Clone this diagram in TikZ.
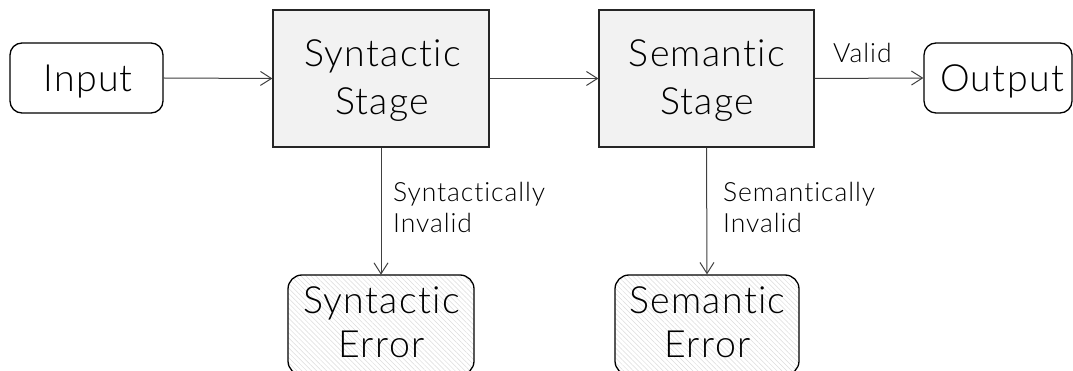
\documentclass[tikz,border=0pt]{standalone}
\usepackage{fontspec}
\setmainfont{Lato}[UprightFont=* Light, LetterSpace=3.5, Ligatures=NoCommon]
\usetikzlibrary{arrows.meta,patterns.meta}
\definecolor{stagefill}{HTML}{F2F2F2}
\definecolor{linegray}{HTML}{404040}
\definecolor{hatchgray}{HTML}{DCDCDC}
\begin{document}
\begin{tikzpicture}[x=1pt,y=-1pt,
  boxtext/.style={font=\fontsize{37.5}{40}\selectfont, anchor=base, inner sep=0pt, text=black},
  labeltext/.style={font=\fontsize{26.5}{30}\selectfont, anchor=base west, inner sep=0pt, text=black},
  roundbox/.style={draw=black, line width=1.3pt, rounded corners=12pt, fill=white, inner sep=0pt},
  stagebox/.style={draw=black!85, line width=1.3pt, fill=stagefill, inner sep=0pt},
  errbox/.style={draw=black, line width=1.3pt, rounded corners=14pt, inner sep=0pt,
     preaction={fill=white}, pattern={Lines[angle=-45,distance=3.5pt,line width=0.5pt]}, pattern color=hatchgray},
  conn/.style={draw=linegray, line width=1pt, -{Straight Barb[length=11pt,width=14pt,line width=1pt]}}
]
\useasboundingbox (0,0) rectangle (1073,371);
\clip (0,0) rectangle (1073,371);
\fill[white] (0,0) rectangle (1073,371);

% boxes
\node[roundbox, minimum width=153pt, minimum height=70pt] (in) at (86.5,78) {};
\node[stagebox, minimum width=216pt, minimum height=137pt] (syn) at (381,78.5) {};
\node[stagebox, minimum width=215pt, minimum height=137pt] (sem) at (706.5,78.5) {};
\node[roundbox, minimum width=148pt, minimum height=70pt] (out) at (998,78) {};
\node[errbox, minimum width=186pt, minimum height=100pt] (synerr) at (381,325) {};
\node[errbox, minimum width=184pt, minimum height=100pt] (semerr) at (707,325) {};

% texts
\node[boxtext] (tin) at (88,92) {Input};
\node[boxtext] (tsyn1) at (382.5,67) {Syntactic};
\node[boxtext] (tsyn2) at (382,115) {Stage};
\node[boxtext] (tsem1) at (707,67) {Semantic};
\node[boxtext] (tsem2) at (707,115) {Stage};
\node[boxtext] (tout) at (1002,92) {Output};
\node[boxtext] (tse1) at (381.5,313) {Syntactic};
\node[boxtext] (tse2) at (381.5,357) {Error};
\node[boxtext] (tme1) at (707.5,313) {Semantic};
\node[boxtext] (tme2) at (707.5,357) {Error};

% labels
\node[labeltext] (lvalid) at (833,63) {Valid};
\node[labeltext] (lsyn1) at (393,202) {Syntactically};
\node[labeltext] (lsyn2) at (393,233) {Invalid};
\node[labeltext] (lsem1) at (723,202) {Semantically};
\node[labeltext] (lsem2) at (723,233) {Invalid};

% connectors
\draw[conn] (in.east) -- (syn.west);
\draw[conn] (syn.east) -- (sem.west);
\draw[conn] (sem.east) -- (out.west);
\draw[conn] (syn.south) -- (synerr.north);
\draw[conn] (sem.south) -- (semerr.north);
\end{tikzpicture}
\end{document}
